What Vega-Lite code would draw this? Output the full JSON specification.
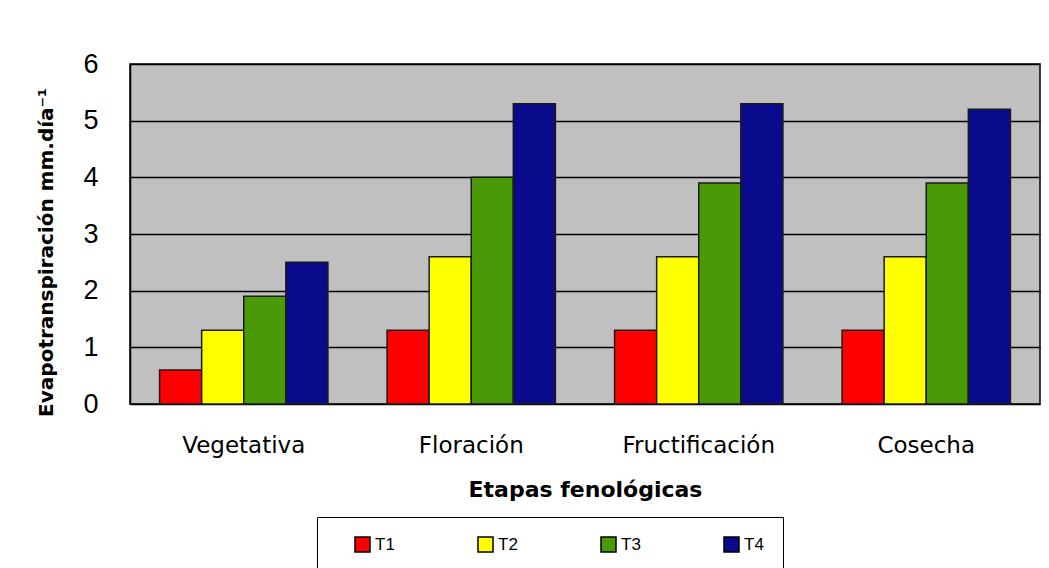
{
  "$schema": "https://vega.github.io/schema/vega-lite/v6.json",
  "width": 910,
  "height": 340,
  "autosize": {"type": "none"},
  "padding": {"left": 130, "top": 64, "right": 9, "bottom": 164},
  "background": "white",
  "config": {
    "view": {"fill": "#c0c0c0", "stroke": "#000000", "strokeWidth": 1.5},
    "font": "DejaVu Sans"
  },
  "data": {
    "values": [
      {"etapa": "Vegetativa", "trat": "T1", "valor": 0.6},
      {"etapa": "Vegetativa", "trat": "T2", "valor": 1.3},
      {"etapa": "Vegetativa", "trat": "T3", "valor": 1.9},
      {"etapa": "Vegetativa", "trat": "T4", "valor": 2.5},
      {"etapa": "Floración", "trat": "T1", "valor": 1.3},
      {"etapa": "Floración", "trat": "T2", "valor": 2.6},
      {"etapa": "Floración", "trat": "T3", "valor": 4.0},
      {"etapa": "Floración", "trat": "T4", "valor": 5.3},
      {"etapa": "Fructificación", "trat": "T1", "valor": 1.3},
      {"etapa": "Fructificación", "trat": "T2", "valor": 2.6},
      {"etapa": "Fructificación", "trat": "T3", "valor": 3.9},
      {"etapa": "Fructificación", "trat": "T4", "valor": 5.3},
      {"etapa": "Cosecha", "trat": "T1", "valor": 1.3},
      {"etapa": "Cosecha", "trat": "T2", "valor": 2.6},
      {"etapa": "Cosecha", "trat": "T3", "valor": 3.9},
      {"etapa": "Cosecha", "trat": "T4", "valor": 5.2}
    ]
  },
  "mark": {"type": "bar", "stroke": "#1a1a1a", "strokeWidth": 1.5},
  "encoding": {
    "x": {
      "field": "etapa",
      "type": "nominal",
      "sort": ["Vegetativa", "Floración", "Fructificación", "Cosecha"],
      "scale": {"paddingInner": 0.26, "paddingOuter": 0.13},
      "axis": {
        "title": "Etapas fenológicas",
        "titleFontSize": 22,
        "titleFontWeight": "bold",
        "titleColor": "#000000",
        "titlePadding": 22,
        "labelFontSize": 23,
        "labelColor": "#000000",
        "labelAngle": 0,
        "labelPadding": 30,
        "ticks": false,
        "domain": false
      }
    },
    "xOffset": {"field": "trat", "type": "nominal", "scale": {"paddingInner": 0, "paddingOuter": 0}},
    "y": {
      "field": "valor",
      "type": "quantitative",
      "scale": {"domain": [0, 6]},
      "axis": {
        "title": "Evapotranspiración mm.día⁻¹",
        "titleFontSize": 20,
        "titleFontWeight": "bold",
        "titleColor": "#000000",
        "titlePadding": 26,
        "titleY": 188,
        "labelFont": "Liberation Sans",
        "labelFontSize": 27,
        "labelColor": "#000000",
        "labelPadding": 32,
        "values": [0, 1, 2, 3, 4, 5, 6],
        "ticks": false,
        "domainColor": "#000000",
        "domainWidth": 1.5,
        "gridColor": "#000000",
        "gridWidth": 1.5,
        "gridOpacity": 1
      }
    },
    "color": {
      "field": "trat",
      "type": "nominal",
      "scale": {"domain": ["T1", "T2", "T3", "T4"], "range": ["#ff0000", "#ffff00", "#4a9a08", "#0a0a8c"]},
      "legend": {
        "title": null,
        "orient": "none",
        "legendX": 187,
        "legendY": 453,
        "direction": "horizontal",
        "symbolType": "square",
        "symbolSize": 225,
        "symbolOffset": 18,
        "symbolStrokeColor": "#000000",
        "symbolStrokeWidth": 1.5,
        "labelFont": "Liberation Sans",
        "labelFontSize": 17,
        "labelColor": "#000000",
        "columnPadding": 64,
        "padding": 19,
        "strokeColor": "#000000",
        "fillColor": "#ffffff"
      }
    }
  }
}
